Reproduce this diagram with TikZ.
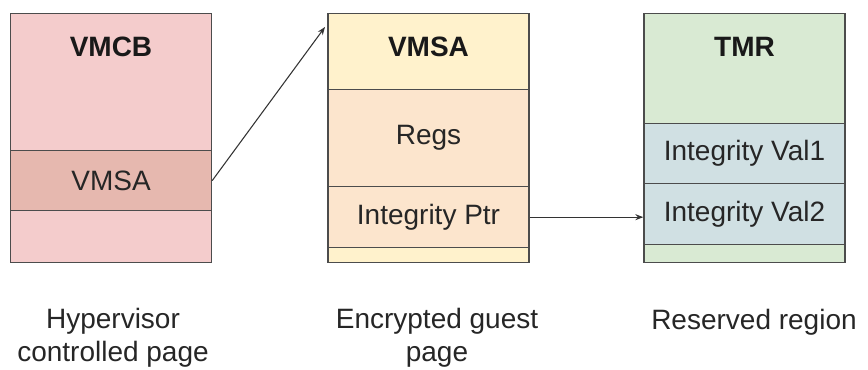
\documentclass[tikz,border=0pt]{standalone}
\usepackage{fontspec}
\setmainfont{Liberation Sans}
\usetikzlibrary{positioning,arrows.meta}

\definecolor{hvpink}{HTML}{F4CCCC}
\definecolor{hvrose}{HTML}{E6B8AF}
\definecolor{guestyellow}{HTML}{FFF2CC}
\definecolor{guestpeach}{HTML}{FCE5CD}
\definecolor{tmrgreen}{HTML}{D9EAD3}
\definecolor{tmrblue}{HTML}{D0E0E3}

\begin{document}
\begin{tikzpicture}[x=0.75pt,y=-0.75pt,
    every node/.style = {font=\fontsize{21}{25}\selectfont, text=black!85},
    page/.style = {draw=black!70, line width=1pt, inner sep=0pt,
      anchor=north, minimum width=150.75pt},
    title/.style = {font=\fontsize{21}{25}\selectfont\bfseries, text=black!90},
    caption/.style = {align=center, font=\fontsize{21}{24.75}\selectfont},
    ptr/.style = {draw=black!80, line width=0.8pt, -{Stealth[length=6pt,width=4.5pt]}}]
  \useasboundingbox (0,0) rectangle (868,369);

  % hypervisor page
  \node[page, fill=hvpink, minimum height=186.75pt] (vmcb) at (111,13) {};
  \node[title] (vmcbtitle) at (111,47) {VMCB};
  \node[page, fill=hvrose, minimum height=45pt] (vmsaref) at (111,150) {VMSA};

  % encrypted guest page
  \node[page, fill=guestyellow, minimum height=186.75pt] (vmsa) at (428.5,13) {};
  \node[title] (vmsatitle) at (428.5,47) {VMSA};
  \node[page, fill=guestpeach, minimum height=72.75pt] (regs) at (428.5,89) {Regs};
  \node[page, fill=guestpeach, minimum height=45.75pt] (intptr) at (428.5,186) {Integrity Ptr};

  % reserved region
  \node[page, fill=tmrgreen, minimum height=186.75pt] (tmr) at (744.5,13) {};
  \node[title] (tmrtitle) at (744.5,47) {TMR};
  \node[page, fill=tmrblue, minimum height=45pt] (val1) at (744.5,123) {Integrity Val1};
  \node[page, fill=tmrblue, minimum height=45.75pt] (val2) at (744.5,183) {Integrity Val2};

  % pointers
  \coordinate (vmsacorner) at (325,27);
  \draw[ptr] (vmsaref.east) -- (vmsacorner);
  \draw[ptr] (intptr.east) -- (intptr.east -| val2.west);

  % captions
  \node[caption] (hvcap) at (113,338) {Hypervisor\\controlled page};
  \node[caption] (guestcap) at (437,338) {Encrypted guest\\page};
  \node[caption] (tmrcap) at (754,322) {Reserved region};
\end{tikzpicture}
\end{document}
